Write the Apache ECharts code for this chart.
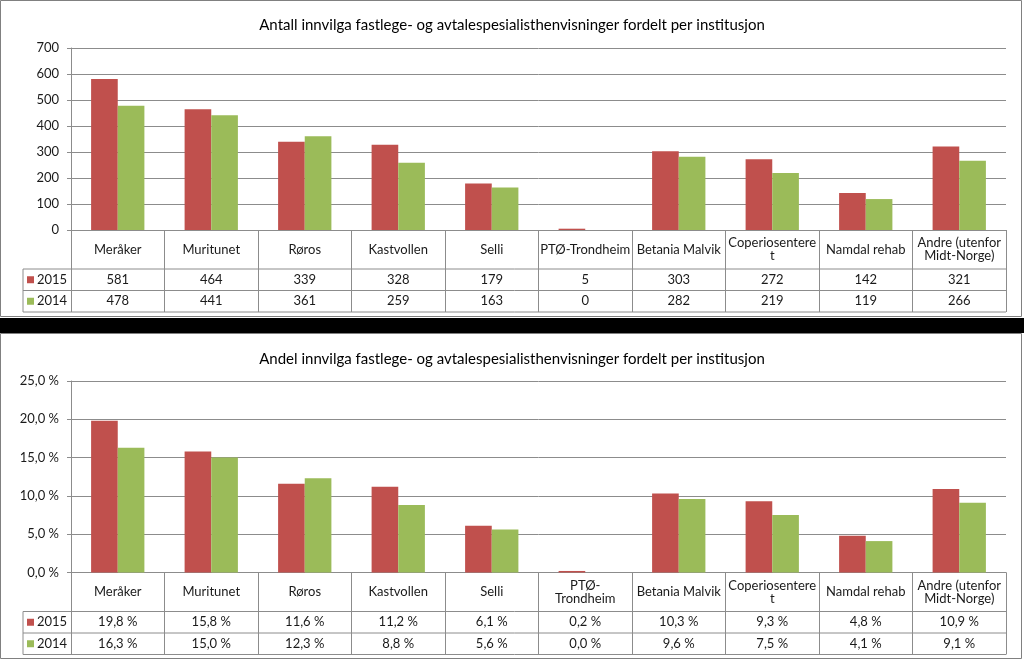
<!DOCTYPE html>
<html><head><meta charset="utf-8">
<script src="https://cdn.jsdelivr.net/npm/echarts@6/dist/echarts.min.js"></script>
<style>html,body{margin:0;padding:0;background:#fff}#c{width:1024px;height:661px}</style>
</head><body><div id="c"></div>
<script>
// ---- data ----
const titleTop = 'Antall innvilga fastlege- og avtalespesialisthenvisninger fordelt per institusjon';
const titleBottom = 'Andel innvilga fastlege- og avtalespesialisthenvisninger fordelt per institusjon';
const categoriesTop = ['Meråker','Muritunet','Røros','Kastvollen','Selli','PTØ-Trondheim','Betania Malvik','Coperiosentere\nt','Namdal rehab','Andre (utenfor\nMidt-Norge)'];
const categoriesBottom = ['Meråker','Muritunet','Røros','Kastvollen','Selli','PTØ-\nTrondheim','Betania Malvik','Coperiosentere\nt','Namdal rehab','Andre (utenfor\nMidt-Norge)'];
const seriesNames = ['2015','2014'];
const count2015 = [581,464,339,328,179,5,303,272,142,321];
const count2014 = [478,441,361,259,163,0,282,219,119,266];
const share2015 = [19.8,15.8,11.6,11.2,6.1,0.2,10.3,9.3,4.8,10.9];
const share2014 = [16.3,15.0,12.3,8.8,5.6,0.0,9.6,7.5,4.1,9.1];
const countAxis = {min:0, max:700, interval:100};
const shareAxis = {min:0, max:25, interval:5};

// ---- layout / style ----
const FONT = 'Lato';
const TXT = '#1a1a1a';
const LINE = '#8c8c8c';
const RED = '#C0504D', GREEN = '#9BBB59';
const W = 1024;
const PLOT_L = 71, PLOT_R = 1006, TABLE_L = 23;
const ROW_CAT = 39, ROW_V = 21.5;
const TABLE_H = ROW_CAT + 2*ROW_V;
const G1 = {top:48, bottom:230};
const G2 = {top:381, bottom:572.5};

const fmtCount = v => String(v);
const fmtShare = v => v.toFixed(1).replace('.', ',') + ' %';

function labelFormatter(a, b, fmt) {
  return function (value, index) {
    const lines = value.split('\n');
    let cat;
    if (lines.length > 1) cat = '{ca|' + lines[0] + '}\n{cb|' + lines[1] + '}';
    else cat = '{c|' + value + '}';
    return cat + '\n{v|' + fmt(a[index]) + '}\n{v|' + fmt(b[index]) + '}';
  };
}
const rich = {
  c:  {fontFamily:FONT, fontSize:13, color:TXT, lineHeight:ROW_CAT},
  ca: {fontFamily:FONT, fontSize:13, color:TXT, lineHeight:ROW_CAT/2, verticalAlign:'bottom'},
  cb: {fontFamily:FONT, fontSize:13, color:TXT, lineHeight:ROW_CAT/2, verticalAlign:'top'},
  v:  {fontFamily:FONT, fontSize:13, color:TXT, lineHeight:ROW_V}
};

function xAxisFor(gridIndex, cats, a, b, fmt) {
  return {
    type:'category', gridIndex, data:cats,
    axisLine:{show:true, lineStyle:{color:LINE, width:1}},
    axisTick:{show:true, interval:0, length:TABLE_H, alignWithLabel:false, lineStyle:{color:LINE}},
    axisLabel:{interval:0, margin:0, verticalAlign:'top', formatter:labelFormatter(a,b,fmt), rich},
    splitLine:{show:false}
  };
}
function yAxisFor(gridIndex, ax, fmt) {
  return {
    type:'value', gridIndex, min:ax.min, max:ax.max, interval:ax.interval,
    axisLine:{show:true, lineStyle:{color:LINE}},
    axisTick:{show:true, length:4, lineStyle:{color:LINE}},
    axisLabel:{margin:12, color:TXT, fontFamily:FONT, fontSize:13, formatter:fmt},
    splitLine:{show:true, lineStyle:{color:LINE, width:1}}
  };
}
function barSeries(name, data, color, idx) {
  return {type:'bar', name, data, xAxisIndex:idx, yAxisIndex:idx, barGap:'0%', barCategoryGap:'43%',
    itemStyle:{color}, emphasis:{disabled:true}, animation:false};
}
function tableLines(gBottom) {
  const els = [];
  [ROW_CAT, ROW_CAT+ROW_V, TABLE_H].forEach(dy => {
    els.push({type:'line', shape:{x1:TABLE_L, y1:gBottom+dy, x2:PLOT_R, y2:gBottom+dy}, style:{stroke:LINE, lineWidth:1}});
  });
  els.push({type:'line', shape:{x1:TABLE_L, y1:gBottom+ROW_CAT, x2:TABLE_L, y2:gBottom+TABLE_H}, style:{stroke:LINE, lineWidth:1}});
  return els;
}
function legendFor(gBottom) {
  return {
    data:seriesNames, orient:'vertical', left:TABLE_L+4, top:gBottom+ROW_CAT,
    itemWidth:7, itemHeight:7, itemGap:0, icon:'rect', padding:0, selectedMode:false,
    textStyle:{fontFamily:FONT, fontSize:13, color:TXT, lineHeight:ROW_V, padding:[0,0,0,-2]}
  };
}

const chart = echarts.init(document.getElementById('c'), null, {renderer:'canvas'});
chart.setOption({
  animation:false,
  backgroundColor:'#fff',
  title:[
    {text:titleTop, left:'center', top:13, textStyle:{fontFamily:FONT, fontSize:15, fontWeight:'normal', color:'#000'}},
    {text:titleBottom, left:'center', top:347, textStyle:{fontFamily:FONT, fontSize:15, fontWeight:'normal', color:'#000'}}
  ],
  legend:[legendFor(G1.bottom), legendFor(G2.bottom)],
  grid:[
    {left:PLOT_L, right:W-PLOT_R, top:G1.top, height:G1.bottom-G1.top, containLabel:false},
    {left:PLOT_L, right:W-PLOT_R, top:G2.top, height:G2.bottom-G2.top, containLabel:false}
  ],
  xAxis:[
    xAxisFor(0, categoriesTop, count2015, count2014, fmtCount),
    xAxisFor(1, categoriesBottom, share2015, share2014, fmtShare)
  ],
  yAxis:[
    yAxisFor(0, countAxis, v => String(v)),
    yAxisFor(1, shareAxis, v => fmtShare(v))
  ],
  series:[
    barSeries(seriesNames[0], count2015, RED, 0),
    barSeries(seriesNames[1], count2014, GREEN, 0),
    barSeries(seriesNames[0], share2015, RED, 1),
    barSeries(seriesNames[1], share2014, GREEN, 1)
  ],
  graphic:[
    {type:'rect', shape:{x:0, y:318, width:W, height:15}, style:{fill:'#000'}},
    {type:'rect', shape:{x:0.5, y:0.5, width:1021, height:316}, style:{fill:'none', stroke:'#808080', lineWidth:1}},
    {type:'rect', shape:{x:0.5, y:333.5, width:1021, height:325}, style:{fill:'none', stroke:'#808080', lineWidth:1}},
    ...tableLines(G1.bottom),
    ...tableLines(G2.bottom)
  ]
});
</script></body></html>
